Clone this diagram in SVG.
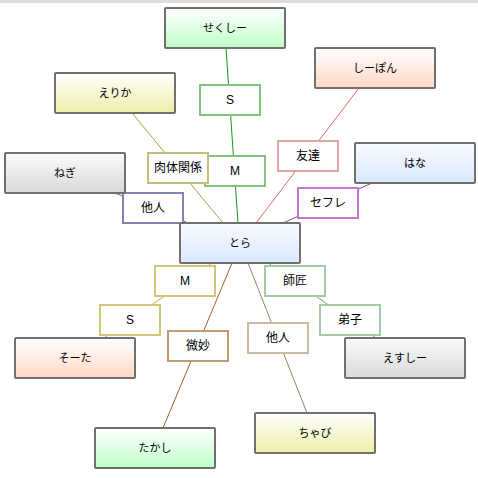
<svg xmlns="http://www.w3.org/2000/svg" width="478" height="478" viewBox="0 0 478 478">
<defs>
<linearGradient id="gGreen" x1="0" y1="0" x2="0" y2="1"><stop offset="0" stop-color="#ffffff"/><stop offset="1" stop-color="#bfffc8"/></linearGradient>
<linearGradient id="gYellow" x1="0" y1="0" x2="0" y2="1"><stop offset="0" stop-color="#ffffff"/><stop offset="1" stop-color="#eeeea8"/></linearGradient>
<linearGradient id="gGrey" x1="0" y1="0" x2="0" y2="1"><stop offset="0" stop-color="#fafafa"/><stop offset="1" stop-color="#dadada"/></linearGradient>
<linearGradient id="gSalmon" x1="0" y1="0" x2="0" y2="1"><stop offset="0" stop-color="#ffffff"/><stop offset="1" stop-color="#ffd8c6"/></linearGradient>
<linearGradient id="gBlue" x1="0" y1="0" x2="0" y2="1"><stop offset="0" stop-color="#f8fbff"/><stop offset="1" stop-color="#d8e8fc"/></linearGradient>
</defs>
<style>
.node rect{stroke:#707070;stroke-width:2}
.lbl rect{fill:#ffffff;stroke-width:2}
text{font-family:"Liberation Sans","Noto Sans CJK JP",sans-serif;font-size:12px;fill:#000;text-anchor:middle;dominant-baseline:central}
.node text{font-size:11px}
.conn line{stroke-width:1;fill:none}
</style>
<rect x="0" y="0" width="478" height="3" fill="#dddddd"/>
<g id="connectors" class="conn">
<line x1="226" y1="48" x2="238" y2="223" stroke="#109a10"/>
<line x1="132" y1="113" x2="223" y2="223" stroke="#a8a040"/>
<line x1="115" y1="193" x2="188" y2="223" stroke="#6a6aa0"/>
<line x1="359" y1="88" x2="256" y2="223" stroke="#e06868"/>
<line x1="372" y1="183" x2="283" y2="223" stroke="#a040a8"/>
<line x1="212" y1="263" x2="104" y2="338" stroke="#c0b040"/>
<line x1="232" y1="263" x2="163" y2="428" stroke="#a06030"/>
<line x1="268" y1="263" x2="376" y2="338" stroke="#70b070"/>
<line x1="248" y1="263" x2="307" y2="413" stroke="#a08060"/>
</g>
<g id="lbl-s1" class="lbl"><rect x="200" y="85" width="60" height="30" stroke="#80c480"/><text x="230" y="100">S</text></g>
<g id="lbl-m1" class="lbl"><rect x="205" y="156" width="60" height="30" stroke="#80c480"/><text x="235" y="171">M</text></g>
<g id="lbl-nikutai" class="lbl"><rect x="148" y="153" width="60" height="30" stroke="#c4bc78"/><text x="178" y="168">肉体関係</text></g>
<g id="lbl-tanin1" class="lbl"><rect x="123" y="193" width="60" height="30" stroke="#8484b4"/><text x="153" y="208">他人</text></g>
<g id="lbl-tomodachi" class="lbl"><rect x="278" y="141" width="60" height="30" stroke="#e4a4a4"/><text x="308" y="156">友達</text></g>
<g id="lbl-sefure" class="lbl"><rect x="298" y="188" width="60" height="30" stroke="#c47ac4"/><text x="328" y="203">セフレ</text></g>
<g id="lbl-m2" class="lbl"><rect x="155" y="266" width="60" height="30" stroke="#d4c478"/><text x="185" y="281">M</text></g>
<g id="lbl-s2" class="lbl"><rect x="100" y="305" width="60" height="30" stroke="#d4c478"/><text x="130" y="320">S</text></g>
<g id="lbl-bimyou" class="lbl"><rect x="168" y="331" width="60" height="30" stroke="#c09c74"/><text x="198" y="346">微妙</text></g>
<g id="lbl-shishou" class="lbl"><rect x="265" y="266" width="60" height="30" stroke="#a4cca4"/><text x="295" y="281">師匠</text></g>
<g id="lbl-deshi" class="lbl"><rect x="320" y="305" width="60" height="30" stroke="#a4cca4"/><text x="350" y="320">弟子</text></g>
<g id="lbl-tanin2" class="lbl"><rect x="248" y="323" width="60" height="30" stroke="#ccbca4"/><text x="278" y="338">他人</text></g>
<g id="sexy" class="node"><rect x="165" y="8" width="120" height="40" rx="1" fill="url(#gGreen)"/><text x="225" y="28">せくしー</text></g>
<g id="erika" class="node"><rect x="55" y="73" width="120" height="40" rx="1" fill="url(#gYellow)"/><text x="115" y="93">えりか</text></g>
<g id="negi" class="node"><rect x="5" y="153" width="120" height="40" rx="1" fill="url(#gGrey)"/><text x="65" y="173">ねぎ</text></g>
<g id="shiipon" class="node"><rect x="315" y="48" width="120" height="40" rx="1" fill="url(#gSalmon)"/><text x="375" y="68">しーぽん</text></g>
<g id="hana" class="node"><rect x="355" y="143" width="120" height="40" rx="1" fill="url(#gBlue)"/><text x="415" y="163">はな</text></g>
<g id="tora" class="node"><rect x="180" y="223" width="120" height="40" rx="1" fill="url(#gBlue)"/><text x="240" y="243">とら</text></g>
<g id="souta" class="node"><rect x="15" y="338" width="120" height="40" rx="1" fill="url(#gSalmon)"/><text x="75" y="358">そーた</text></g>
<g id="takashi" class="node"><rect x="95" y="428" width="120" height="40" rx="1" fill="url(#gGreen)"/><text x="155" y="448">たかし</text></g>
<g id="esushii" class="node"><rect x="345" y="338" width="120" height="40" rx="1" fill="url(#gGrey)"/><text x="405" y="358">えすしー</text></g>
<g id="chabi" class="node"><rect x="255" y="413" width="120" height="40" rx="1" fill="url(#gYellow)"/><text x="315" y="433">ちゃび</text></g>
</svg>
